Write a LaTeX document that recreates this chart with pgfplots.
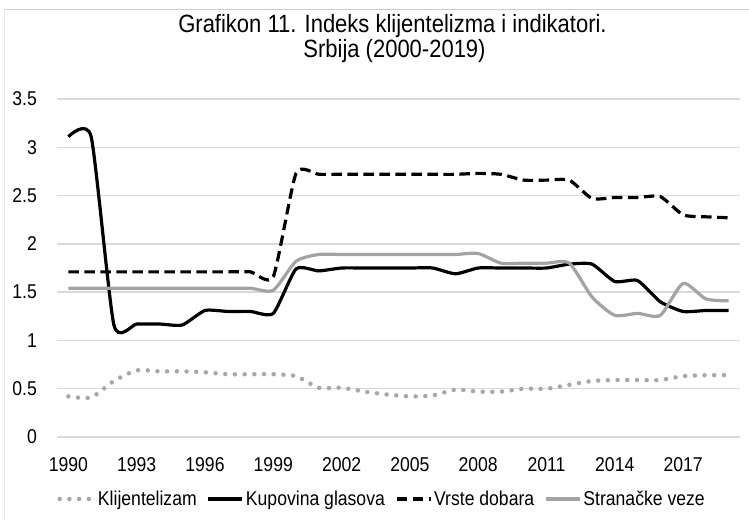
\documentclass[border=0pt]{standalone}
\usepackage{pgfplots}
\pgfplotsset{compat=1.18}
\usepackage{fontspec}
\setmainfont[FakeStretch=0.88]{Liberation Sans}
\definecolor{gridc}{RGB}{217,217,217}
\definecolor{lgray}{RGB}{163,163,163}
\definecolor{dgray}{RGB}{168,168,168}
\definecolor{frtop}{RGB}{205,205,205}
\definecolor{frleft}{RGB}{232,232,232}
\begin{document}
\begin{tikzpicture}
\begin{axis}[
  name=ax,
  scale only axis,
  width=683pt, height=338pt,
  xmin=1989.5, xmax=2019.5,
  ymin=0, ymax=3.5,
  xtick={1990,1993,...,2017},
  ytick={0,0.5,...,3.5},
  xticklabel style={/pgf/number format/1000 sep={}, inner sep=0pt, anchor=north, yshift=-20pt},
  yticklabel style={inner sep=0pt, anchor=east, xshift=-20pt},
  /pgf/number format/assume math mode=true,
  /pgf/number format/fixed,
  ticklabel style={font=\fontsize{20}{22}\selectfont},
  major tick length=0pt,
  axis line style={draw=none},
  ymajorgrids,
  grid style={gridc, line width=1.3pt},
  legend columns=4,
  legend style={draw=none, fill=none, at={(0.476,0)}, anchor=center, yshift=-62pt,
    font=\fontsize{20}{22}\selectfont, inner sep=0pt, nodes={inner sep=2pt},
    /tikz/every even column/.append style={column sep=8pt}},
  legend image code/.code={\draw[#1] (0pt,0pt) -- (34pt,0pt);},
  clip=false,
]
\addplot[dgray, line width=4.5pt, line cap=round, dash pattern=on 0pt off 9.7pt, smooth, tension=0.4] coordinates {
(1990,0.42) (1991,0.41) (1992,0.58) (1993,0.69) (1994,0.68) (1995,0.68) (1996,0.67) (1997,0.65) (1998,0.65) (1999,0.65)
(2000,0.63) (2001,0.51) (2002,0.51) (2003,0.47) (2004,0.44) (2005,0.42) (2006,0.43) (2007,0.49) (2008,0.47) (2009,0.47)
(2010,0.50) (2011,0.50) (2012,0.54) (2013,0.58) (2014,0.59) (2015,0.59) (2016,0.59) (2017,0.63) (2018,0.64) (2019,0.64)
};
\addlegendentry{Klijentelizam}
\addplot[black, line width=3.2pt, smooth, tension=0.35] coordinates {
(1990,3.11) (1991,3.11) (1992,1.16) (1993,1.17) (1994,1.17) (1995,1.16) (1996,1.31) (1997,1.30) (1998,1.30) (1999,1.28)
(2000,1.74) (2001,1.72) (2002,1.75) (2003,1.75) (2004,1.75) (2005,1.75) (2006,1.75) (2007,1.69) (2008,1.75) (2009,1.75)
(2010,1.75) (2011,1.75) (2012,1.79) (2013,1.79) (2014,1.61) (2015,1.62) (2016,1.40) (2017,1.30) (2018,1.31) (2019,1.31)
};
\addlegendentry{Kupovina glasova}
\addplot[black, line width=3.2pt, dash pattern=on 10.5pt off 5.5pt, smooth, tension=0.35] coordinates {
(1990,1.71) (1991,1.71) (1992,1.71) (1993,1.71) (1994,1.71) (1995,1.71) (1996,1.71) (1997,1.71) (1998,1.71) (1999,1.66)
(2000,2.73) (2001,2.72) (2002,2.72) (2003,2.72) (2004,2.72) (2005,2.72) (2006,2.72) (2007,2.72) (2008,2.73) (2009,2.72)
(2010,2.66) (2011,2.66) (2012,2.66) (2013,2.47) (2014,2.48) (2015,2.48) (2016,2.49) (2017,2.30) (2018,2.28) (2019,2.27)
};
\addlegendentry{Vrste dobara}
\addplot[lgray, line width=3.2pt, smooth, tension=0.4] coordinates {
(1990,1.54) (1991,1.54) (1992,1.54) (1993,1.54) (1994,1.54) (1995,1.54) (1996,1.54) (1997,1.54) (1998,1.54) (1999,1.52)
(2000,1.82) (2001,1.89) (2002,1.89) (2003,1.89) (2004,1.89) (2005,1.89) (2006,1.89) (2007,1.89) (2008,1.90) (2009,1.80)
(2010,1.80) (2011,1.80) (2012,1.80) (2013,1.45) (2014,1.26) (2015,1.28) (2016,1.26) (2017,1.59) (2018,1.43) (2019,1.41)
};
\addlegendentry{Stranačke veze}
\end{axis}
\useasboundingbox ([shift={(-57pt,-83pt)}]ax.south west) rectangle ([shift={(9pt,99pt)}]ax.north east);
\draw[frtop, line width=1.5pt] ([shift={(-52pt,89.5pt)}]ax.north west) -- ([shift={(9pt,89.5pt)}]ax.north east);
\draw[frleft, line width=1pt] ([shift={(-52pt,89.5pt)}]ax.north west) -- ([shift={(-52pt,-83pt)}]ax.south west);
\node[font=\fontsize{25}{28}\selectfont, anchor=base, inner sep=0pt] at ([shift={(-6pt,66pt)}]ax.north) {Grafikon 11. Indeks klijentelizma i indikatori.};
\node[font=\fontsize{25}{28}\selectfont, anchor=base, inner sep=0pt] at ([shift={(-4pt,41pt)}]ax.north) {Srbija (2000-2019)};
\end{tikzpicture}
\end{document}
